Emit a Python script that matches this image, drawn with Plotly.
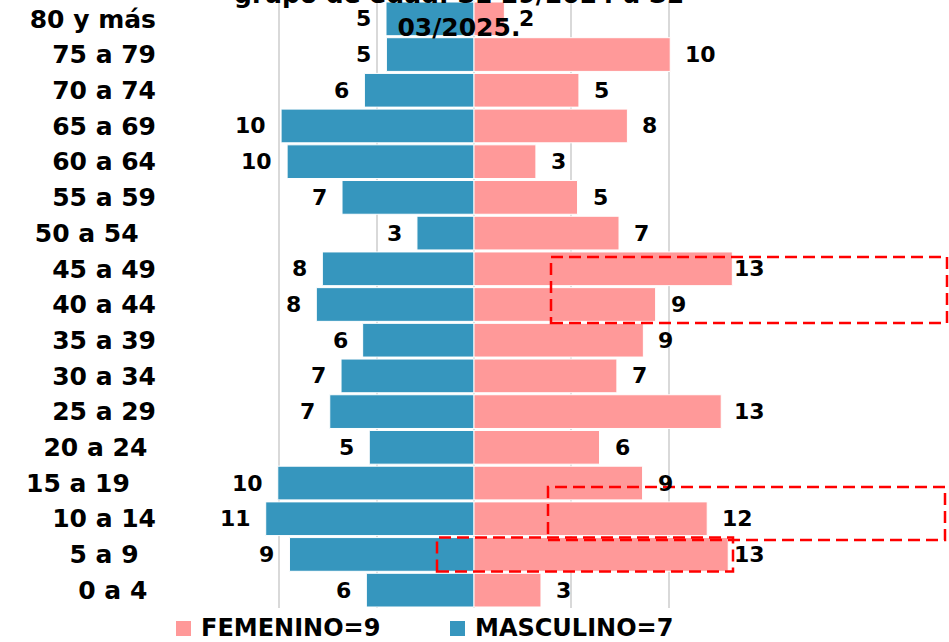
import plotly.graph_objects as go

# ---------------- data ----------------
age_groups = ["0 a 4", "5 a 9", "10 a 14", "15 a 19", "20 a 24", "25 a 29",
              "30 a 34", "35 a 39", "40 a 44", "45 a 49", "50 a 54", "55 a 59",
              "60 a 64", "65 a 69", "70 a 74", "75 a 79", "80 y más"]
NB = "\u00a0"
tick_labels = ["0 a 4" + NB, "5 a 9" + NB * 2, "10 a 14", "15 a 19" + NB * 3,
               "20 a 24" + NB, "25 a 29", "30 a 34", "35 a 39", "40 a 44",
               "45 a 49", "50 a 54" + NB * 2, "55 a 59", "60 a 64", "65 a 69",
               "70 a 74", "75 a 79", "80 y más"]

masculino = [5.53, 9.48, 10.70, 10.08, 5.38, 7.41, 6.83, 5.72, 8.10, 7.79,
             2.93, 6.78, 9.60, 9.91, 5.63, 4.50, 4.52]
masculino_labels = ["6", "9", "11", "10", "5", "7", "7", "6", "8", "8",
                    "3", "7", "10", "10", "6", "5", "5"]

femenino = [3.44, 13.06, 11.98, 8.66, 6.45, 12.70, 7.34, 8.70, 9.33, 13.27,
            7.45, 5.32, 3.18, 7.88, 5.39, 10.08, 1.56]
femenino_labels = ["3", "13", "12", "9", "6", "13", "7", "9", "9", "13",
                   "7", "5", "3", "8", "5", "10", "2"]

series_names = ["FEMENINO=9", "MASCULINO=7"]
title_text = "grupo de edad. SE 29/2024 a SE<br>03/2025."
x_ticks = [-15, -10, -5, 0, 5, 10, 15]

# ---------------- style ----------------
W, H = 949, 642
PL, PR, PT, PB = 182, 766, 1, 608          # plot area in pixels
BLUE = "#3696BE"
PINK = "#FF9999"
RED = "#FF0000"
FONT = "DejaVu Sans"
LABEL_X_MAX = 12.6


def px_x(px):
    return (px - PL) / (PR - PL)


def px_y(py):
    return (PB - py) / (PB - PT)


fig = go.Figure()
fig.add_trace(go.Bar(
    y=age_groups, x=[-v for v in masculino], orientation="h",
    name=series_names[1], marker=dict(color=BLUE, line=dict(color="white", width=1)),
    showlegend=False, hoverinfo="skip"))
fig.add_trace(go.Bar(
    y=age_groups, x=femenino, orientation="h",
    name=series_names[0], marker=dict(color=PINK, line=dict(color="white", width=1)),
    showlegend=False, hoverinfo="skip"))

annotations = []
lab_font = dict(family=FONT, size=22, color="black", weight="bold")
for age, v, t in zip(age_groups, masculino, masculino_labels):
    annotations.append(dict(x=-v, y=age, xref="x", yref="y", text=t, showarrow=False,
                            xanchor="right", yanchor="middle", xshift=-13, font=lab_font))
for age, v, t in zip(age_groups, femenino, femenino_labels):
    annotations.append(dict(x=min(v, LABEL_X_MAX), y=age, xref="x", yref="y", text=t,
                            showarrow=False, xanchor="left", yanchor="middle", xshift=13,
                            font=lab_font))

# title (partly cut at the top, as in the reference)
annotations.append(dict(x=px_x(459), y=px_y(44), xref="paper", yref="paper",
                        text=title_text, showarrow=False, xanchor="center",
                        yanchor="bottom", align="center",
                        font=dict(family=FONT, size=25, color="black", weight="bold")))

# custom legend
shapes = []
leg_font = dict(family=FONT, size=24, color="black", weight="bold")
for name, color, sx, tx in [(series_names[0], PINK, 176, 199),
                            (series_names[1], BLUE, 450, 473)]:
    shapes.append(dict(type="rect", xref="paper", yref="paper",
                       x0=px_x(sx), x1=px_x(sx + 15), y0=px_y(636), y1=px_y(621),
                       fillcolor=color, line=dict(width=0)))
    annotations.append(dict(x=px_x(tx), y=px_y(628), xref="paper", yref="paper",
                            text=name, showarrow=False, xanchor="left",
                            yanchor="middle", font=leg_font))

# red dashed highlight boxes
for x0, x1, y0, y1 in [(551, 947, 257, 323), (548, 945, 487, 540), (437, 733, 537.5, 571.5)]:
    shapes.append(dict(type="rect", xref="paper", yref="paper",
                       x0=px_x(x0), x1=px_x(x1), y0=px_y(y1), y1=px_y(y0),
                       line=dict(color=RED, width=2.5, dash="12px,6px"),
                       fillcolor="rgba(0,0,0,0)", layer="above"))

fig.update_layout(
    width=W, height=H,
    margin=dict(l=PL, r=W - PR, t=PT, b=H - PB, pad=0),
    paper_bgcolor="white", plot_bgcolor="white",
    barmode="relative", bargap=0.056,
    annotations=annotations, shapes=shapes,
    showlegend=False,
    xaxis=dict(range=[-15, 15], tickvals=x_ticks, showticklabels=False,
               showgrid=True, gridcolor="#D9D9D9", gridwidth=1.5,
               zeroline=False, showline=False, fixedrange=True),
    yaxis=dict(categoryorder="array", categoryarray=age_groups,
               tickvals=age_groups, ticktext=tick_labels,
               tickfont=dict(family=FONT, size=25, color="black", weight="bold"),
               ticks="", ticklabelstandoff=25, showgrid=False, zeroline=False,
               showline=False, fixedrange=True),
)

fig.write_html(
    "out.html",
    config={"displayModeBar": False},
    post_script="document.body.style.margin='0';document.body.style.overflow='hidden';",
)
